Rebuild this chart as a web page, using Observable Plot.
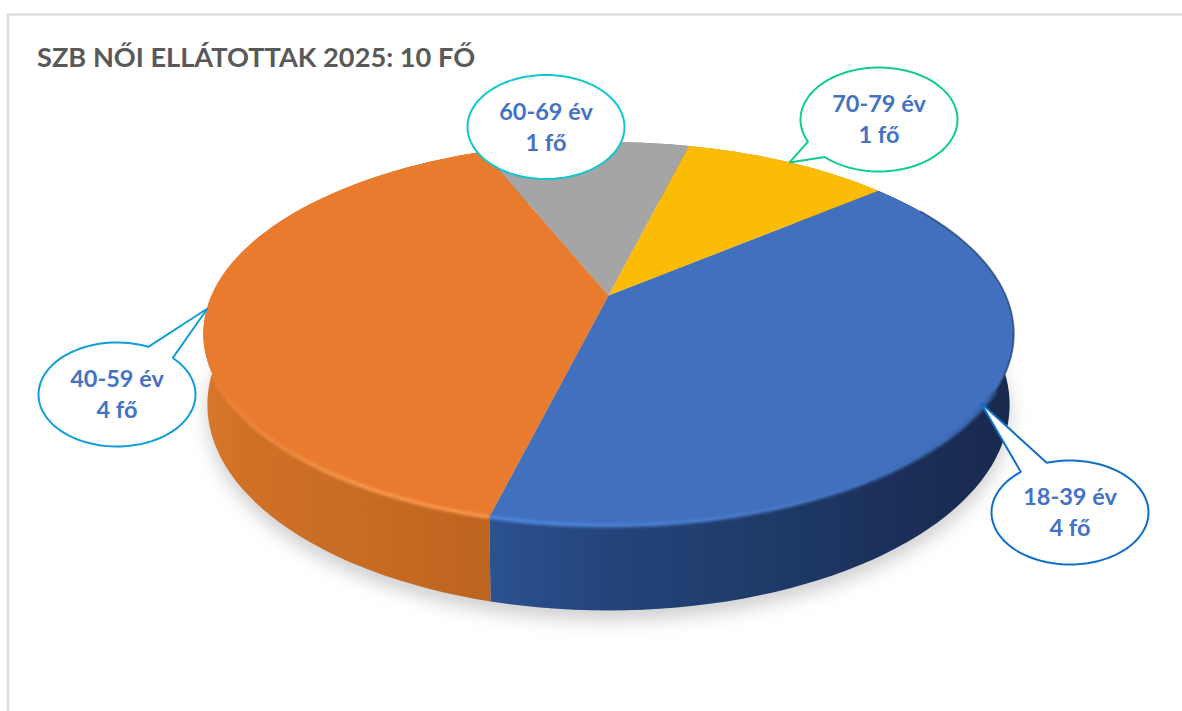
<!DOCTYPE html>
<html><head><meta charset="utf-8">
<style>html,body{margin:0;padding:0;background:#fff}svg{display:block;max-width:none}</style>
<script src="https://cdn.jsdelivr.net/npm/d3@7"></script>
<script src="https://cdn.jsdelivr.net/npm/@observablehq/plot@0.6"></script>
</head><body><div id="chart"></div>
<script>
// ---- data
const categories = ["18-39 év", "40-59 év", "60-69 év", "70-79 év"];
const counts = [4, 4, 1, 1];
const title = "SZB NŐI ELLÁTOTTAK 2025: 10 FŐ";

// ---- styles
const topColors = ["#4170BE", "#E97B2F", "#A5A5A5", "#FCBC05"];
const wallFills = ["url(#wallBlue)", "url(#wallOrange)", "#7a7a7a", "#b88a00"];
const rimFills = ["url(#rimBlue)", "url(#rimOrange)", "#c0c0c0", "#ffd24d"];
const calloutStroke = ["#0F6FC6", "#0F9ED5", "#10C6CF", "#12CB94"];

// ---- layout: pie projection and callouts
const pie = {cx: 608, cy: 295, R: 397, S: 184, k: 0.2, h: 68, shrink: 0.99, startDeg: -40};
const callouts = [
  {cx: 1069.5, cy: 512, tip: [980, 402], a: [1046, 462], b: [1021, 472]},
  {cx: 116.5, cy: 394, tip: [207, 308], a: [148, 346], b: [173, 357]},
  {cx: 545.5, cy: 126.5},
  {cx: 878.5, cy: 119, tip: [789, 162], a: [808, 141], b: [825, 156]}
];
const rx = 78.5, ry = 52;

// ---- geometry from the values
const rad = d => d * Math.PI / 180;
function project(deg, level = 0) {
  const u = Math.cos(rad(deg)), v = Math.sin(rad(deg)), d = 1 - pie.k * v;
  const s = level ? pie.shrink : 1;
  return {x: pie.cx + s * pie.R * u / d, y: pie.cy + (pie.S * v + level * pie.h) / d};
}
const arc = (a0, a1, level = 0) => {
  const n = Math.max(2, Math.ceil(Math.abs(a1 - a0) / 2)), out = [];
  for (let i = 0; i <= n; ++i) out.push(project(a0 + (a1 - a0) * i / n, level));
  return out;
};
const total = d3.sum(counts);
let acc = pie.startDeg;
const slices = categories.map((cat, i) => {
  const a0 = acc, a1 = acc + counts[i] / total * 360; acc = a1;
  return {cat, i, a0, a1};
});
const topPoly = [], wallPoly = [], rimLine = [];
for (const s of slices) {
  const id = s.i;
  topPoly.push(...[{x: pie.cx, y: pie.cy}, ...arc(s.a0, s.a1)].map(p => ({...p, id})));
  wallPoly.push(...[...arc(s.a0, s.a1), ...arc(s.a1, s.a0, 1)].map(p => ({...p, id})));
  // front-facing part of the top edge only
  const lo = Math.max(s.a0, 28), hi = Math.min(s.a1, 156);
  if (hi > lo) rimLine.push(...arc(lo, hi).map(p => ({...p, id})));
}
const darkEdge = arc(-30, 30);
const shadow = arc(0, 360, 1).map(p => ({x: p.x, y: p.y + 10}));

function calloutPath(c, i) {
  const pts = [];
  if (c.tip) {
    const ang = p => Math.atan2((p[1] - c.cy) / ry, (p[0] - c.cx) / rx);
    const a0 = ang(c.a), a1 = ang(c.b);
    let st = a1, diff = a0 - a1;
    while (diff < 0) diff += 2 * Math.PI;
    if (diff < Math.PI) { st = a0; diff = a1 - a0; while (diff < 0) diff += 2 * Math.PI; }
    const n = 90;
    for (let j = 0; j <= n; ++j) {
      const t = st + diff * j / n;
      pts.push({x: c.cx + rx * Math.cos(t), y: c.cy + ry * Math.sin(t)});
    }
    pts.push({x: c.tip[0], y: c.tip[1]});
  } else {
    for (let j = 0; j < 120; ++j) {
      const t = j / 120 * 2 * Math.PI;
      pts.push({x: c.cx + rx * Math.cos(t), y: c.cy + ry * Math.sin(t)});
    }
  }
  return pts.map(p => ({...p, id: i}));
}
const calloutPts = callouts.flatMap(calloutPath);
const labels = categories.map((c, i) => ({x: callouts[i].cx, y: callouts[i].cy - 1.5, text: `${c}\n${counts[i]} fő`}));

function gradient(defs, id, stops) {
  const g = defs.append("linearGradient").attr("id", id).attr("gradientUnits", "userSpaceOnUse")
    .attr("x1", 200).attr("y1", 0).attr("x2", 1015).attr("y2", 0);
  for (const [o, c] of stops) g.append("stop").attr("offset", o).attr("stop-color", c);
}
const defsMark = () => {
  const svg = d3.create("svg:g");
  const defs = svg.append("defs");
  gradient(defs, "wallOrange", [[0, "#D9782B"], [0.06, "#CF7026"], [0.2, "#C86C24"], [0.36, "#BC631E"]]);
  gradient(defs, "wallBlue", [[0.35, "#2C5291"], [0.5, "#24447A"], [0.7, "#1E3A68"], [0.9, "#1A2D55"], [1, "#18294C"]]);
  gradient(defs, "rimOrange", [[0, "#E97B2F"], [0.08, "#F08640"], [0.2, "#F7964A"], [0.36, "#F7964A"]]);
  gradient(defs, "rimBlue", [[0.35, "#4E86DE"], [0.6, "#4A7CCB"], [0.85, "#3F6FBC"], [0.97, "#365F9E"]]);
  return svg.node();
};

const xy = {x: "x", y: "y"};
const font = "Lato, Carlito, Calibri, sans-serif";
const marks = [
  defsMark,
  Plot.ruleY([14], {x1: 7, x2: 1182, stroke: "#DEDEDE", strokeWidth: 2.5}),
  Plot.ruleX([7.5], {y1: 14, y2: 711, stroke: "#DEDEDE", strokeWidth: 2.5}),
  Plot.line(shadow, {...xy, fill: "#8f8f8f", fillOpacity: 0.42, stroke: "none", imageFilter: "blur(9px)"}),
  ...slices.map(s => Plot.line(wallPoly.filter(d => d.id === s.i), {...xy, fill: wallFills[s.i], stroke: "none", curve: "linear-closed"})),
  ...slices.map(s => Plot.line(topPoly.filter(d => d.id === s.i), {...xy, fill: topColors[s.i], stroke: "none", curve: "linear-closed"})),
  ...slices.filter(s => rimLine.some(d => d.id === s.i)).map(s =>
    Plot.line(rimLine.filter(d => d.id === s.i), {...xy, stroke: rimFills[s.i], strokeWidth: 4, strokeLinecap: "butt", imageFilter: "blur(1.5px)"})),
  Plot.line(darkEdge, {...xy, stroke: "#2F4F82", strokeWidth: 2, strokeOpacity: 0.8}),
  ...callouts.map((c, i) => Plot.line(calloutPts.filter(d => d.id === i), {...xy, fill: "#fff", stroke: calloutStroke[i], strokeWidth: 2, curve: "linear-closed", strokeLinejoin: "miter"})),
  Plot.text(labels, {x: "x", y: "y", text: "text", fill: "#4472C4", fontFamily: font, fontWeight: 700, fontSize: 23.5, lineHeight: 1.32}),
  Plot.text([title], {x: () => 36.5, y: () => 58, text: d => d, textAnchor: "start", fill: "#595959", fontFamily: font, fontWeight: 700, fontSize: 27.2})
];
const chart = Plot.plot({
  width: 1182, height: 711, margin: 0,
  x: {domain: [0, 1182], range: [0, 1182], axis: null},
  y: {domain: [0, 711], range: [0, 711], axis: null},
  style: {background: "#fff"},
  marks
});
document.getElementById("chart").append(chart);
</script></body></html>
